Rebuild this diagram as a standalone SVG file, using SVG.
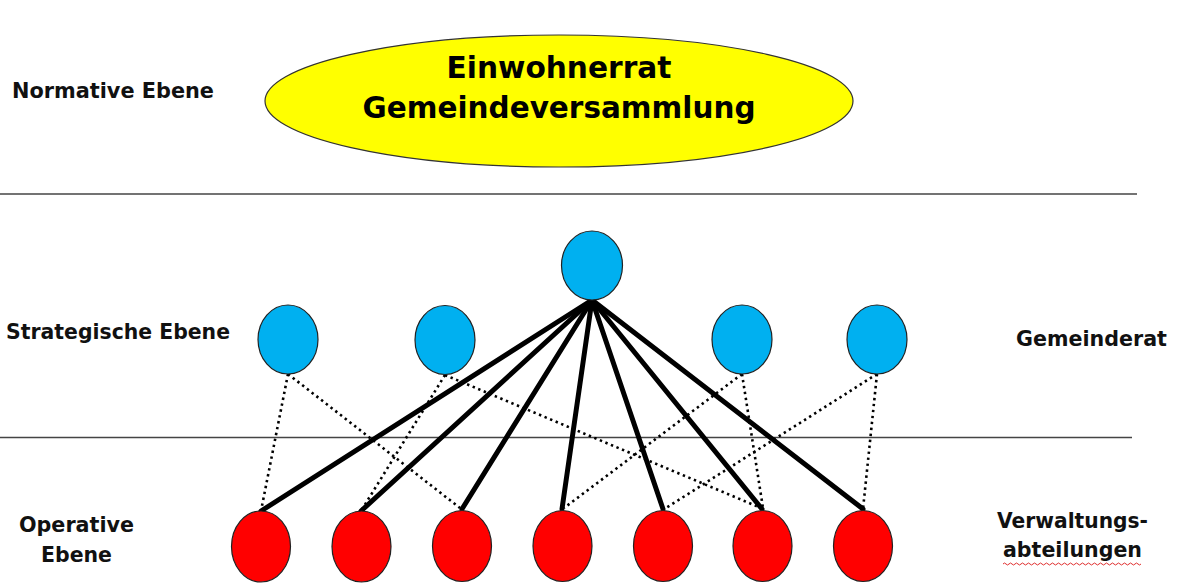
<svg xmlns="http://www.w3.org/2000/svg" width="1177" height="583" viewBox="0 0 1177 583">
<defs>
<style>
.lbl{font-family:"DejaVu Sans","Liberation Sans",sans-serif;font-weight:bold;font-size:21.5px;fill:#111}
.title{font-family:"DejaVu Sans","Liberation Sans",sans-serif;font-weight:bold;font-size:31px;fill:#000}
.sep{stroke:#444;stroke-width:1.5;fill:none}
.blue{fill:#00B0F0;stroke:#222;stroke-width:1.2}
.red{fill:#FF0000;stroke:#222;stroke-width:1.2}
.solid{stroke:#000;stroke-width:5;fill:none;stroke-linecap:round}
.dot{stroke:#000;stroke-width:2.6;fill:none;stroke-dasharray:2.4 3.6}
</style>
</defs>
<rect width="1177" height="583" fill="#fff"/>
<line class="sep" x1="0" y1="194" x2="1137" y2="194"/>
<line class="sep" x1="0" y1="437.5" x2="1132" y2="437.5"/>
<g id="labels">
<text class="lbl" x="12" y="98" textLength="202" lengthAdjust="spacingAndGlyphs">Normative Ebene</text>
<text class="lbl" x="6" y="339" textLength="224" lengthAdjust="spacingAndGlyphs">Strategische Ebene</text>
<text class="lbl" x="19" y="532" textLength="115" lengthAdjust="spacingAndGlyphs">Operative</text>
<text class="lbl" x="41" y="562" textLength="71" lengthAdjust="spacingAndGlyphs">Ebene</text>
<text class="lbl" x="1016" y="346" textLength="151" lengthAdjust="spacingAndGlyphs">Gemeinderat</text>
<text class="lbl" x="997" y="528" textLength="151" lengthAdjust="spacingAndGlyphs">Verwaltungs-</text>
<text class="lbl" x="1003" y="557" textLength="139" lengthAdjust="spacingAndGlyphs">abteilungen</text>
<path d="M1003 564 q1.5 -2 3 0 t3 0 t3 0 t3 0 t3 0 t3 0 t3 0 t3 0 t3 0 t3 0 t3 0 t3 0 t3 0 t3 0 t3 0 t3 0 t3 0 t3 0 t3 0 t3 0 t3 0 t3 0 t3 0 t3 0 t3 0 t3 0 t3 0 t3 0 t3 0 t3 0 t3 0 t3 0 t3 0 t3 0 t3 0 t3 0 t3 0 t3 0 t3 0 t3 0 t3 0 t3 0 t3 0 t3 0 t3 0 t3 0" fill="none" stroke="#e03030" stroke-width="1"/>
</g>
<g id="connectors">
<line class="solid" x1="592" y1="300" x2="261" y2="511"/>
<line class="solid" x1="592" y1="300" x2="361" y2="511"/>
<line class="solid" x1="592" y1="300" x2="462" y2="509"/>
<line class="solid" x1="592" y1="300" x2="562" y2="509"/>
<line class="solid" x1="592" y1="300" x2="663" y2="509"/>
<line class="solid" x1="592" y1="300" x2="762" y2="509"/>
<line class="solid" x1="592" y1="300" x2="863" y2="509"/>
<line class="dot" x1="288" y1="374" x2="261" y2="511"/>
<line class="dot" x1="288" y1="374" x2="460" y2="508"/>
<line class="dot" x1="445" y1="375" x2="361" y2="511"/>
<line class="dot" x1="445" y1="375" x2="761" y2="508"/>
<line class="dot" x1="742" y1="374" x2="564" y2="508"/>
<line class="dot" x1="742" y1="374" x2="763" y2="508"/>
<line class="dot" x1="877" y1="374" x2="666" y2="508"/>
<line class="dot" x1="877" y1="374" x2="863" y2="509"/>
</g>
<g id="top">
<ellipse cx="559" cy="101" rx="294" ry="66" fill="#FFFF00" stroke="#333" stroke-width="1.2"/>
<text class="title" x="559" y="78" text-anchor="middle" textLength="225" lengthAdjust="spacingAndGlyphs">Einwohnerrat</text>
<text class="title" x="559" y="118" text-anchor="middle" textLength="393" lengthAdjust="spacingAndGlyphs">Gemeindeversammlung</text>
</g>
<g id="gemeinderat-main"><ellipse class="blue" cx="592" cy="265.5" rx="30.5" ry="34.5"/></g>
<g id="gr1"><ellipse class="blue" cx="288" cy="339.5" rx="30" ry="34.5"/></g>
<g id="gr2"><ellipse class="blue" cx="445" cy="340" rx="30" ry="34.5"/></g>
<g id="gr3"><ellipse class="blue" cx="742" cy="339.5" rx="30" ry="34.5"/></g>
<g id="gr4"><ellipse class="blue" cx="877" cy="339.5" rx="30" ry="34.5"/></g>
<g id="va1"><ellipse class="red" cx="261" cy="546.5" rx="29.5" ry="35.5"/></g>
<g id="va2"><ellipse class="red" cx="361.5" cy="546.5" rx="29.5" ry="35.5"/></g>
<g id="va3"><ellipse class="red" cx="462" cy="546" rx="29.5" ry="35.5"/></g>
<g id="va4"><ellipse class="red" cx="562.5" cy="546" rx="29.5" ry="35.5"/></g>
<g id="va5"><ellipse class="red" cx="663" cy="546" rx="29.5" ry="35.5"/></g>
<g id="va6"><ellipse class="red" cx="762.5" cy="546" rx="29.5" ry="35.5"/></g>
<g id="va7"><ellipse class="red" cx="863" cy="546" rx="29.5" ry="35.5"/></g>
</svg>
